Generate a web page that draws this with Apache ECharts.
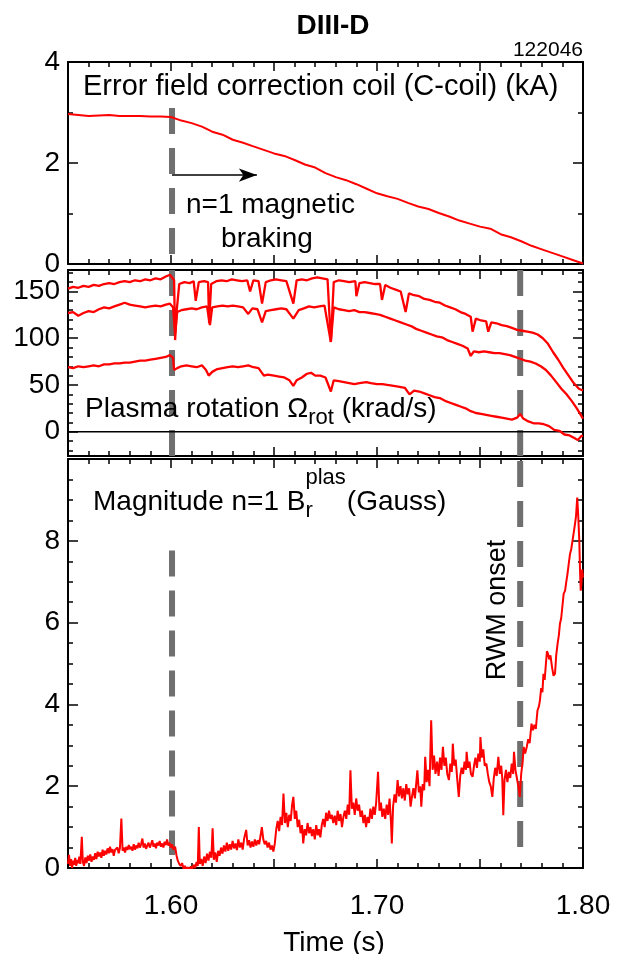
<!DOCTYPE html>
<html><head><meta charset="utf-8">
<script src="https://cdn.jsdelivr.net/npm/echarts@6/dist/echarts.min.js"></script>
<style>html,body{margin:0;padding:0;background:#fff}#c{width:617px;height:954px}</style>
</head><body><div id="c"></div>
<script>
// ---------- DATA ----------
// C-coil current (kA)
const cCoil = [[1.550,2.97],[1.555,2.95],[1.560,2.93],[1.565,2.94],[1.570,2.95],[1.575,2.93],[1.580,2.93],[1.585,2.93],[1.590,2.92],[1.595,2.92],[1.600,2.91],[1.605,2.84],[1.610,2.79],[1.615,2.72],[1.620,2.62],[1.625,2.56],[1.630,2.46],[1.635,2.40],[1.640,2.33],[1.645,2.26],[1.650,2.19],[1.655,2.14],[1.660,2.06],[1.665,1.97],[1.670,1.91],[1.675,1.80],[1.680,1.72],[1.685,1.66],[1.690,1.58],[1.695,1.49],[1.700,1.40],[1.705,1.34],[1.710,1.29],[1.715,1.21],[1.720,1.14],[1.725,1.09],[1.730,1.01],[1.735,0.94],[1.740,0.86],[1.745,0.80],[1.750,0.74],[1.755,0.70],[1.760,0.59],[1.765,0.53],[1.770,0.45],[1.775,0.36],[1.780,0.29],[1.785,0.22],[1.790,0.15],[1.795,0.08],[1.800,0.01]];

// Plasma rotation (krad/s), three radii
const rotOuter = [[1.550,153],[1.5525,155],[1.555,154],[1.5575,156],[1.560,155],[1.5625,157],[1.565,156],[1.5675,158],[1.570,159],[1.5725,158],[1.575,160],[1.5775,161],[1.580,160],[1.5825,162],[1.585,161],[1.5875,163],[1.590,162],[1.5925,164],[1.595,163],[1.5975,166],[1.5995,168],[1.6005,165],[1.6015,162],[1.602,98],[1.6028,130],[1.604,158],[1.6065,160],[1.609,159],[1.611,161],[1.612,140],[1.6135,160],[1.616,161],[1.618,160],[1.6185,116],[1.6195,158],[1.622,161],[1.6245,162],[1.627,161],[1.6295,163],[1.632,162],[1.6345,161],[1.637,162],[1.6384,150],[1.640,162],[1.6425,161],[1.6442,137],[1.646,160],[1.6485,162],[1.651,163],[1.6535,162],[1.656,161],[1.6594,137],[1.661,162],[1.6635,163],[1.666,162],[1.6685,164],[1.671,165],[1.6735,164],[1.676,163],[1.6776,96],[1.679,160],[1.6815,162],[1.684,161],[1.6865,160],[1.6895,161],[1.690,145],[1.6915,159],[1.694,160],[1.6965,159],[1.699,158],[1.7015,158],[1.7024,141],[1.704,157],[1.7065,154],[1.709,152],[1.7115,150],[1.7139,128],[1.7155,148],[1.718,146],[1.7205,145],[1.723,142],[1.7255,141],[1.728,139],[1.7305,138],[1.733,135],[1.7355,133],[1.738,131],[1.7405,128],[1.743,126],[1.7455,123],[1.7464,107],[1.748,121],[1.7505,119],[1.753,118],[1.754,107],[1.7555,117],[1.758,116],[1.7605,114],[1.763,113],[1.7655,111],[1.768,109],[1.7705,108],[1.773,107],[1.7755,106],[1.778,104],[1.7805,100],[1.783,94],[1.7855,85],[1.788,77],[1.7905,68],[1.793,60],[1.7955,52],[1.798,46],[1.800,44]];
const rotMiddle = [[1.550,127],[1.5525,128],[1.555,124],[1.5575,127],[1.560,129],[1.5625,128],[1.565,131],[1.5675,133],[1.570,132],[1.5725,134],[1.575,136],[1.5775,138],[1.580,136],[1.5825,135],[1.585,134],[1.5875,133],[1.590,134],[1.5925,135],[1.595,134],[1.5975,136],[1.5995,137],[1.601,133],[1.602,105],[1.603,128],[1.605,130],[1.6075,131],[1.610,132],[1.6125,131],[1.615,133],[1.6175,134],[1.6189,114],[1.620,133],[1.6225,134],[1.625,135],[1.6275,134],[1.630,135],[1.6325,134],[1.635,133],[1.6375,126],[1.6395,132],[1.642,131],[1.6442,117],[1.646,129],[1.6485,130],[1.651,131],[1.6535,132],[1.656,131],[1.6594,121],[1.662,130],[1.6645,132],[1.667,134],[1.6695,133],[1.672,134],[1.6745,135],[1.6776,96],[1.679,133],[1.6815,131],[1.684,130],[1.6865,129],[1.689,130],[1.6915,128],[1.694,128],[1.6965,127],[1.699,126],[1.7015,125],[1.704,123],[1.7065,121],[1.709,119],[1.7115,117],[1.714,115],[1.7165,113],[1.719,110],[1.7215,108],[1.724,106],[1.7265,104],[1.729,102],[1.7315,101],[1.734,98],[1.7365,96],[1.739,94],[1.7415,92],[1.744,89],[1.7455,81],[1.747,86],[1.7495,85],[1.752,86],[1.7545,85],[1.757,84],[1.7595,84],[1.762,83],[1.7645,82],[1.767,80],[1.7695,78],[1.772,76],[1.7745,75],[1.777,73],[1.7795,70],[1.782,66],[1.7845,60],[1.787,53],[1.7895,46],[1.792,40],[1.7945,33],[1.797,25],[1.800,14]];
const rotInner = [[1.550,69],[1.5525,68],[1.555,70],[1.5575,69],[1.560,70],[1.5625,71],[1.565,70],[1.5675,72],[1.570,72],[1.5725,73],[1.575,73],[1.5775,74],[1.580,74],[1.5825,75],[1.585,76],[1.5875,76],[1.590,77],[1.5925,78],[1.595,79],[1.5975,80],[1.5995,82],[1.601,79],[1.6015,66],[1.603,68],[1.605,70],[1.6075,71],[1.610,70],[1.6125,69],[1.615,71],[1.617,66],[1.6183,60],[1.620,64],[1.6225,67],[1.625,68],[1.6275,69],[1.630,70],[1.6325,69],[1.635,70],[1.6375,71],[1.640,69],[1.6425,68],[1.6451,60],[1.647,61],[1.650,60],[1.6525,59],[1.655,58],[1.6575,55],[1.6594,49],[1.661,55],[1.6635,58],[1.666,62],[1.668,63],[1.670,60],[1.6725,60],[1.675,58],[1.6776,43],[1.679,55],[1.6815,54],[1.684,53],[1.6865,52],[1.689,51],[1.6915,52],[1.6948,53],[1.697,52],[1.700,51],[1.7025,51],[1.705,50],[1.7081,49],[1.711,48],[1.7135,47],[1.7158,40],[1.718,44],[1.7205,43],[1.723,41],[1.7255,39],[1.728,37],[1.7305,36],[1.733,33],[1.7355,31],[1.738,29],[1.7405,27],[1.743,25],[1.7455,22],[1.748,20],[1.7505,19],[1.753,18],[1.7555,17],[1.758,16],[1.7605,15],[1.763,14],[1.7655,13],[1.768,15],[1.7695,19],[1.771,14],[1.7735,11],[1.776,9],[1.7785,9],[1.781,8],[1.7835,6],[1.786,2],[1.7885,1],[1.791,-3],[1.7935,-4],[1.796,-7],[1.7975,-9],[1.799,-5],[1.800,-4]];

// Magnitude n=1 Br plas (Gauss)
const brPlas = [[1.5500,0.10],[1.5505,0.32],[1.5510,0.05],[1.5515,0.22],[1.5520,0.00],[1.5525,0.18],[1.5530,0.08],[1.5535,0.25],[1.5540,0.05],[1.5545,0.20],[1.5550,0.12],[1.5555,0.28],[1.5560,0.10],[1.5567,0.76],[1.5572,0.15],[1.5578,0.05],[1.5584,0.26],[1.5590,0.12],[1.5596,0.30],[1.5602,0.18],[1.5608,0.33],[1.5614,0.15],[1.5620,0.28],[1.5626,0.20],[1.5632,0.36],[1.5638,0.22],[1.5644,0.40],[1.5650,0.28],[1.5656,0.38],[1.5662,0.25],[1.5668,0.45],[1.5674,0.30],[1.5680,0.42],[1.5686,0.33],[1.5692,0.48],[1.5698,0.36],[1.5704,0.52],[1.5710,0.38],[1.5716,0.46],[1.5722,0.30],[1.5728,0.44],[1.5734,0.40],[1.5740,0.50],[1.5746,0.36],[1.5752,0.48],[1.5759,1.21],[1.5765,0.42],[1.5771,0.50],[1.5777,0.38],[1.5783,0.52],[1.5789,0.44],[1.5795,0.56],[1.5801,0.46],[1.5807,0.52],[1.5813,0.42],[1.5819,0.58],[1.5825,0.45],[1.5831,0.55],[1.5837,0.48],[1.5843,0.62],[1.5849,0.50],[1.5855,0.58],[1.5861,0.72],[1.5867,0.50],[1.5873,0.60],[1.5879,0.47],[1.5885,0.55],[1.5891,0.62],[1.5897,0.50],[1.5903,0.58],[1.5909,0.68],[1.5915,0.52],[1.5921,0.60],[1.5927,0.48],[1.5933,0.62],[1.5939,0.55],[1.5945,0.66],[1.5951,0.52],[1.5957,0.60],[1.5963,0.50],[1.5969,0.64],[1.5975,0.56],[1.5981,0.70],[1.5987,0.55],[1.5993,0.62],[1.5999,0.50],[1.6005,0.58],[1.6012,0.45],[1.6020,0.52],[1.6027,0.30],[1.6033,0.18],[1.6040,0.10],[1.6047,0.05],[1.6054,0.12],[1.6061,-0.02],[1.6068,0.05],[1.6075,-0.05],[1.6082,0.02],[1.6089,-0.06],[1.6096,0.04],[1.6103,-0.03],[1.6110,0.08],[1.6117,0.00],[1.6124,0.15],[1.6130,0.05],[1.6135,1.00],[1.6140,0.10],[1.6147,0.22],[1.6154,0.05],[1.6161,0.28],[1.6168,0.12],[1.6175,0.35],[1.6182,0.18],[1.6189,0.40],[1.6196,0.25],[1.6202,0.97],[1.6208,0.20],[1.6215,0.38],[1.6222,0.15],[1.6229,0.42],[1.6236,0.30],[1.6243,0.50],[1.6250,0.35],[1.6257,0.55],[1.6264,0.40],[1.6271,0.62],[1.6278,0.42],[1.6285,0.58],[1.6292,0.45],[1.6299,0.66],[1.6306,0.48],[1.6313,0.60],[1.6320,0.44],[1.6327,0.70],[1.6334,0.50],[1.6341,0.62],[1.6348,0.45],[1.6355,0.72],[1.6365,0.93],[1.6372,0.55],[1.6379,0.68],[1.6386,0.50],[1.6393,0.65],[1.6400,0.52],[1.6407,0.70],[1.6414,0.55],[1.6421,0.68],[1.6428,0.58],[1.6435,0.80],[1.6441,1.00],[1.6448,0.70],[1.6455,0.58],[1.6462,0.66],[1.6469,0.50],[1.6476,0.62],[1.6483,0.45],[1.6490,0.55],[1.6497,0.40],[1.6504,0.60],[1.6511,0.95],[1.6518,1.15],[1.6525,0.90],[1.6532,1.25],[1.6539,1.05],[1.6546,1.82],[1.6553,1.10],[1.6560,1.35],[1.6567,1.00],[1.6574,1.30],[1.6581,1.15],[1.6588,1.55],[1.6594,1.74],[1.6601,1.20],[1.6608,1.40],[1.6615,1.00],[1.6622,1.18],[1.6629,0.85],[1.6636,1.05],[1.6642,0.60],[1.6649,0.95],[1.6656,0.80],[1.6663,1.10],[1.6670,0.85],[1.6677,1.00],[1.6684,0.78],[1.6691,0.95],[1.6698,0.70],[1.6705,1.05],[1.6712,0.80],[1.6718,0.95],[1.6725,0.75],[1.6732,1.05],[1.6739,1.20],[1.6746,1.00],[1.6753,1.35],[1.6760,1.15],[1.6767,1.40],[1.6774,1.20],[1.6781,1.30],[1.6788,1.10],[1.6795,1.28],[1.6802,1.05],[1.6809,1.40],[1.6816,1.15],[1.6823,1.32],[1.6830,1.00],[1.6837,1.25],[1.6844,1.40],[1.6851,1.20],[1.6858,1.55],[1.6865,1.30],[1.6871,2.39],[1.6878,1.45],[1.6885,1.60],[1.6892,1.30],[1.6899,1.70],[1.6906,1.40],[1.6913,1.55],[1.6920,1.25],[1.6927,1.40],[1.6934,1.10],[1.6941,1.30],[1.6947,1.00],[1.6954,1.25],[1.6961,1.10],[1.6968,1.45],[1.6975,1.20],[1.6982,1.50],[1.6989,1.30],[1.6996,1.60],[1.7005,2.35],[1.7012,1.40],[1.7019,1.60],[1.7026,1.25],[1.7033,1.45],[1.7040,1.20],[1.7047,1.55],[1.7054,1.30],[1.7061,1.70],[1.7068,1.10],[1.7072,0.60],[1.7078,1.50],[1.7085,1.80],[1.7092,1.60],[1.7100,2.15],[1.7107,1.75],[1.7114,2.00],[1.7121,1.70],[1.7128,1.95],[1.7135,1.65],[1.7142,2.05],[1.7149,1.80],[1.7156,1.95],[1.7163,1.50],[1.7170,1.75],[1.7177,1.95],[1.7184,1.70],[1.7191,2.10],[1.7196,2.39],[1.7203,1.85],[1.7210,2.00],[1.7215,1.50],[1.7222,2.05],[1.7229,1.90],[1.7234,2.72],[1.7241,2.10],[1.7248,2.40],[1.7255,2.00],[1.7263,3.61],[1.7270,2.40],[1.7277,2.75],[1.7284,2.30],[1.7292,2.60],[1.7299,2.25],[1.7306,2.70],[1.7313,2.40],[1.7320,2.96],[1.7327,2.50],[1.7334,2.70],[1.7341,2.30],[1.7349,2.15],[1.7356,2.55],[1.7363,2.35],[1.7368,3.04],[1.7375,2.50],[1.7382,2.65],[1.7389,2.20],[1.7397,1.74],[1.7404,2.25],[1.7411,2.45],[1.7418,2.30],[1.7425,2.60],[1.7432,2.40],[1.7435,2.84],[1.7442,2.45],[1.7449,2.60],[1.7456,2.30],[1.7464,2.23],[1.7471,2.50],[1.7478,2.70],[1.7485,2.45],[1.7492,2.80],[1.7499,2.60],[1.7502,3.20],[1.7509,2.70],[1.7516,2.90],[1.7523,2.50],[1.7531,2.55],[1.7538,2.30],[1.7545,2.10],[1.7552,2.00],[1.7560,1.74],[1.7567,2.20],[1.7574,2.45],[1.7581,2.25],[1.7589,2.72],[1.7596,2.30],[1.7603,2.50],[1.7608,2.20],[1.7613,1.29],[1.7619,2.15],[1.7626,2.40],[1.7633,2.10],[1.7640,2.35],[1.7647,2.20],[1.7654,2.55],[1.7661,2.30],[1.7665,2.84],[1.7672,2.40],[1.7679,2.20],[1.7686,2.00],[1.7693,1.74],[1.7700,2.30],[1.7707,2.60],[1.7712,2.96],[1.7719,2.80],[1.7727,2.96],[1.7734,3.15],[1.7741,3.05],[1.7750,3.53],[1.7757,3.37],[1.7764,3.50],[1.7771,3.40],[1.7779,3.85],[1.7786,3.95],[1.7791,4.10],[1.7797,4.40],[1.7803,4.30],[1.7808,4.75],[1.7814,4.60],[1.7820,5.00],[1.7825,5.30],[1.7830,5.24],[1.7836,5.10],[1.7842,5.20],[1.7850,4.90],[1.7857,4.70],[1.7864,4.75],[1.7870,5.20],[1.7877,5.50],[1.7883,5.70],[1.7888,5.97],[1.7894,6.10],[1.7900,6.40],[1.7906,6.70],[1.7913,6.78],[1.7919,7.00],[1.7925,7.20],[1.7931,7.45],[1.7937,7.68],[1.7943,7.80],[1.7949,8.00],[1.7955,8.20],[1.7961,8.41],[1.7966,8.60],[1.7972,9.06],[1.7977,8.60],[1.7982,8.00],[1.7986,7.20],[1.7989,6.78],[1.7993,7.00],[1.7996,7.30],[1.8000,7.10]];

const xTickLabels = ['1.60','1.70','1.80'];
const topYLabels = [0, 2, 4];
const midYLabels = [0, 50, 100, 150];
const midYMinor = [-20,-10,10,20,30,40,60,70,80,90,110,120,130,140,160,170];
const botYLabels = [0, 2, 4, 6, 8];
const brakeTime = 1.6005;        // start of n=1 magnetic braking
const rwmTime = 1.7695;          // RWM onset
const brakeLineTop = [3.09, 0.18];
const brakeLineBot = [7.76, 0.32];
const rwmLineBot = [9.95, 0.32];
const arrowLevel = 1.76, arrowEnd = 1.6417;

// ---------- CHART ----------
const FONT = '"Liberation Sans", Arial, Helvetica, sans-serif';
const chart = echarts.init(document.getElementById('c'), null, {renderer:'canvas'});
const grids = [
  {left:68, top:62, width:515, height:202},
  {left:68, top:270, width:515, height:186},
  {left:68, top:459, width:515, height:409}
];
const lineBlack = {color:'#000', width:2};
function xAx(g, pos, labels){
  return {type:'value', gridIndex:g, position:pos, min:1.55, max:1.80, interval:0.05,
    axisLine:{show:true, onZero:false, lineStyle:lineBlack},
    axisTick:{show:true, inside:true, length:9, lineStyle:{color:'#000', width:1.5}},
    minorTick:{show:true, splitNumber:5, length:5, lineStyle:{color:'#000', width:1.5}},
    splitLine:{show:false}, minorSplitLine:{show:false},
    axisLabel:{show:!!labels, margin:24, color:'#000', fontSize:28, fontFamily:FONT,
      showMinLabel:true, showMaxLabel:true,
      formatter:v=>{const s=v.toFixed(2); return xTickLabels.includes(s)?s:'';}}
  };
}
function yAx(g, pos, o){
  return Object.assign({type:'value', gridIndex:g, position:pos,
    axisLine:{show:true, onZero:false, lineStyle:lineBlack},
    axisTick:{show:true, inside:true, length:10, lineStyle:{color:'#000', width:1.5}},
    splitLine:{show:false}, minorSplitLine:{show:false},
    axisLabel:{show:false}}, o);
}
const lbl = (show, extra) => Object.assign({show:show, margin:8, color:'#000', fontSize:28, fontFamily:FONT, showMinLabel:true, showMaxLabel:true}, extra||{});
const xAxis = [xAx(0,'bottom',false), xAx(0,'top',false), xAx(1,'bottom',false), xAx(1,'top',false), xAx(2,'bottom',true), xAx(2,'top',false)];
const yAxis = [
  yAx(0,'left',{min:0,max:4,interval:2, minorTick:{show:true,splitNumber:2,length:5,lineStyle:{color:'#000',width:1.5}}, axisLabel:lbl(true,{formatter:v=>topYLabels.includes(v)?String(v):''})}),
  yAx(0,'right',{min:0,max:4,interval:2, minorTick:{show:true,splitNumber:2,length:5,lineStyle:{color:'#000',width:1.5}}}),
  yAx(1,'left',{min:-26,max:173, axisTick:{show:true,inside:true,length:10,customValues:midYLabels,lineStyle:{color:'#000',width:1.5}}, axisLabel:lbl(true,{customValues:midYLabels})}),
  yAx(1,'left',{min:-26,max:173, axisTick:{show:true,inside:true,length:5,customValues:midYMinor,lineStyle:{color:'#000',width:1.5}}}),
  yAx(1,'right',{min:-26,max:173, axisTick:{show:true,inside:true,length:10,customValues:midYLabels,lineStyle:{color:'#000',width:1.5}}}),
  yAx(1,'right',{min:-26,max:173, axisTick:{show:true,inside:true,length:5,customValues:midYMinor,lineStyle:{color:'#000',width:1.5}}}),
  yAx(2,'left',{min:0,max:10,interval:2, minorTick:{show:true,splitNumber:4,length:5,lineStyle:{color:'#000',width:1.5}}, axisLabel:lbl(true,{formatter:v=>botYLabels.includes(v)?String(v):''})}),
  yAx(2,'right',{min:0,max:10,interval:2, minorTick:{show:true,splitNumber:4,length:5,lineStyle:{color:'#000',width:1.5}}})
];
const RED = '#ff0000', GRAY = '#6f6f6f';
function redLine(data, xi, yi, w){ return {type:'line', data, xAxisIndex:xi, yAxisIndex:yi, symbol:'none', showSymbol:false, silent:true, z:5, lineStyle:{color:RED, width:w||1.8}}; }
function dash(t, range, xi, yi){ return {type:'line', data:[[t,range[0]],[t,range[1]]], xAxisIndex:xi, yAxisIndex:yi, symbol:'none', silent:true, z:2, lineStyle:{color:GRAY, width:6, type:[26,14]}}; }
const series = [
  dash(brakeTime, brakeLineTop, 0, 0),
  Object.assign(redLine(cCoil, 0, 0, 2), {markLine:{silent:true, symbol:['none','arrow'], symbolSize:[10,18], label:{show:false},
    lineStyle:{color:'#000', width:1.5, type:'solid'},
    data:[[{coord:[brakeTime, arrowLevel]},{coord:[arrowEnd, arrowLevel]}]]}}),
  dash(brakeTime, [173,-26], 2, 2),
  dash(rwmTime, [173,-26], 2, 2),
  {type:'line', data:[[1.55,0],[1.80,0]], xAxisIndex:2, yAxisIndex:2, symbol:'none', silent:true, z:3, lineStyle:{color:'#000', width:1.5}},
  redLine(rotOuter, 2, 2, 2.3),
  redLine(rotMiddle, 2, 2, 2.3),
  redLine(rotInner, 2, 2, 2.3),
  dash(brakeTime, brakeLineBot, 4, 6),
  dash(rwmTime, rwmLineBot, 4, 6),
  redLine(brPlas, 4, 6, 2)
];

// text helpers
const meas = document.createElement('canvas').getContext('2d');
function tw(t, size, weight){ meas.font = (weight||'normal')+' '+size+'px '+FONT; return meas.measureText(t).width; }
function txt(t, x, y, size, opt){
  opt = opt||{};
  return {type:'text', x:x, y:y, rotation:opt.rotation||0, silent:true, z:100,
    style:{text:t, font:(opt.weight||'normal')+' '+size+'px '+FONT, fill:'#000',
      textAlign:opt.align||'left', align:opt.align||'left', textVerticalAlign:'middle', verticalAlign:'middle'}};
}
function seq(x, y, parts){
  const out=[];
  for(const p of parts){
    out.push(txt(p.t, x+(p.dx||0), y+(p.dy||0), p.size));
    if(!p.stay) x += (p.dx||0) + tw(p.t, p.size);
  }
  return out;
}
const graphic = [].concat(
  [txt('DIII-D', 333, 26, 28, {align:'center', weight:'bold'}),
   txt('122046', 583, 50, 21, {align:'right'}),
   txt('Error field correction coil (C-coil) (kA)', 83, 87, 29),
   txt('n=1 magnetic', 186, 205, 28),
   txt('braking', 267, 239, 28, {align:'center'}),
   txt('RWM onset', 498, 610, 27, {align:'center', rotation:Math.PI/2}),
   txt('Time (s)', 334, 943, 28, {align:'center'})],
  seq(85, 409, [{t:'Plasma rotation \u03A9', size:28},{t:'rot', size:22, dy:9},{t:' (krad/s)', size:28}]),
  seq(93, 502, [{t:'Magnitude n=1 B', size:28},{t:'r', size:22, dy:9, stay:true},{t:'plas', size:22, dy:-24},{t:'(Gauss)', size:28, dx:1}])
);

chart.setOption({
  animation:false, backgroundColor:'#fff',
  grid: grids.map(g=>Object.assign({outerBoundsMode:'none', containLabel:false}, g)),
  xAxis, yAxis, series, graphic
});
</script></body></html>
